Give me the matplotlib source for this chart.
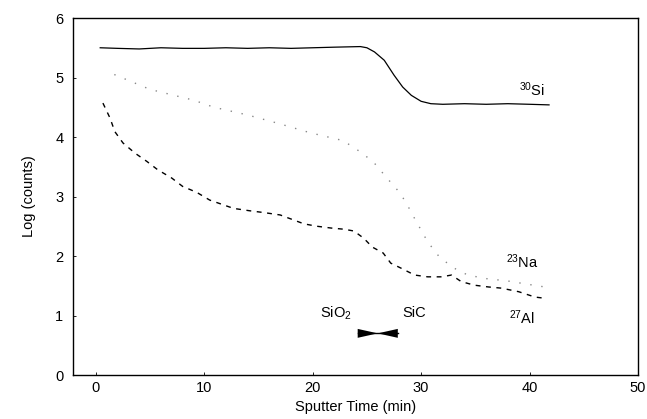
import matplotlib
matplotlib.use("Agg")
import matplotlib.pyplot as plt
import numpy as np

plt.rcParams['font.family'] = ['Liberation Sans', 'DejaVu Sans']
plt.rcParams['mathtext.fontset'] = 'custom'
plt.rcParams['mathtext.rm'] = 'Liberation Sans'
plt.rcParams['mathtext.it'] = 'Liberation Sans:italic'

# 30Si (solid)
si_x = [0.4, 2, 4, 6, 8, 10, 12, 14, 16, 18, 20, 22, 24.4, 25.0, 25.7, 26.6, 27.5, 28.3, 29.1, 30.0, 30.9, 32, 34, 36, 38, 40, 41.8]
si_y = [5.50, 5.49, 5.48, 5.50, 5.49, 5.49, 5.50, 5.49, 5.50, 5.49, 5.50, 5.51, 5.52, 5.50, 5.43, 5.29, 5.04, 4.84, 4.70, 4.60, 4.56, 4.55, 4.56, 4.55, 4.56, 4.55, 4.54]

# 23Na (dotted)
na_x = [1.7, 5, 9.0, 10.9, 14.0, 16.8, 19.8, 22.8, 24.4, 25.6, 26.9, 28.1, 28.9, 29.4, 30.6, 31.7, 33, 34.3, 36, 38, 40, 41.4]
na_y = [5.05, 4.80, 4.62, 4.50, 4.37, 4.23, 4.07, 3.94, 3.75, 3.58, 3.30, 3.05, 2.80, 2.63, 2.24, 1.98, 1.80, 1.68, 1.62, 1.58, 1.52, 1.48]

# 27Al (dashed)
al_x = [0.65, 1.3, 1.75, 2.5, 3.6, 4.7, 5.7, 7.0, 8.0, 9.3, 10.5, 12.7, 14.2, 15.5, 17.0, 19.2, 20.4, 21.7, 22.9, 23.8,
        24.7, 25.5, 26.5, 27.2, 28.1, 29.4, 30.6, 31.9, 32.8, 33.7, 34.9, 36.2, 37.4, 39.0, 40.5, 41.4]
al_y = [4.57, 4.32, 4.09, 3.90, 3.73, 3.59, 3.45, 3.31, 3.17, 3.07, 2.94, 2.80, 2.76, 2.73, 2.69, 2.54, 2.50, 2.47, 2.45, 2.42,
        2.30, 2.15, 2.05, 1.88, 1.80, 1.68, 1.65, 1.65, 1.68, 1.57, 1.51, 1.48, 1.46, 1.40, 1.31, 1.29]

x_ticks = [0, 10, 20, 30, 40, 50]
y_ticks = [0, 1, 2, 3, 4, 5, 6]

fig = plt.figure(figsize=(6.47, 4.19), dpi=100)
ax = fig.add_axes([0.113, 0.105, 0.873, 0.852])

ax.plot(si_x, si_y, color='black', lw=0.9, ls='-')
ax.plot(na_x, na_y, color='#888888', lw=1.0, ls=(0, (1, 7)))
ax.plot(al_x, al_y, color='black', lw=1.0, ls=(0, (3.5, 4)))

ax.set_xlim(-2.1, 50)
ax.set_ylim(0, 6)
ax.set_xticks(x_ticks)
ax.set_yticks(y_ticks)
ax.tick_params(direction='in', length=2, width=0.6, labelsize=10.5)
ax.tick_params(axis='x', pad=4)
ax.tick_params(axis='y', pad=7)
for s in ax.spines.values():
    s.set_linewidth(1.0)

ax.set_xlabel('Sputter Time (min)', fontsize=10.5, labelpad=4)
ax.set_ylabel('Log (counts)', fontsize=10.5, labelpad=14)

# labels
ax.text(40.2, 4.79, r'$^{30}$Si', fontsize=10.5, ha='center', va='center')
ax.text(39.3, 1.9, r'$^{23}$Na', fontsize=10.5, ha='center', va='center')
ax.text(39.3, 0.96, r'$^{27}$Al', fontsize=10.5, ha='center', va='center')
ax.text(22.1, 1.04, r'SiO$_2$', fontsize=10.5, ha='center', va='center')
ax.text(29.4, 1.04, 'SiC', fontsize=10.5, ha='center', va='center')

# bow-tie interface marker
cx, cy, hw, hh = 26.0, 0.70, 1.85, 0.075
ax.fill([cx - hw, cx, cx - hw], [cy - hh, cy, cy + hh], color='black', lw=0)
ax.fill([cx + hw, cx, cx + hw], [cy - hh, cy, cy + hh], color='black', lw=0)
ax.plot([cx - hw, cx + hw], [cy, cy], color='black', lw=1.0)

fig.savefig('out.png', dpi=100)
